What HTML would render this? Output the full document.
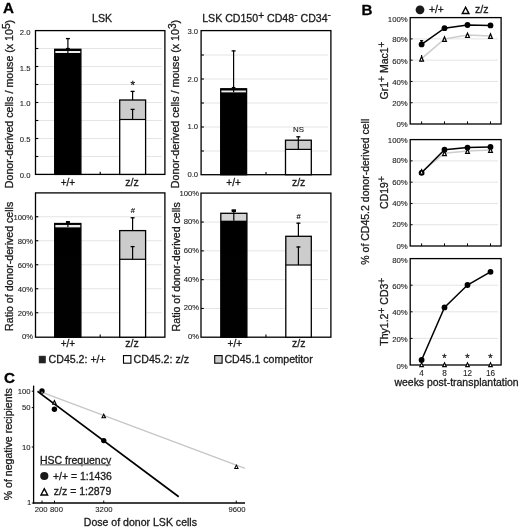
<!DOCTYPE html>
<html><head><meta charset="utf-8"><title>figure</title>
<style>html,body{margin:0;padding:0;background:#fff;}svg{display:block;font-family:"Liberation Sans", sans-serif;will-change:transform;opacity:0.999;}</style>
</head><body>
<svg width="520" height="529" viewBox="0 0 520 529">
<rect x="0" y="0" width="520" height="529" fill="#fff"/>
<text x="3.0" y="13.2" font-size="15.2" text-anchor="start" font-weight="bold" fill="#000" stroke="#000" stroke-width="0.3" >A</text>
<text x="102" y="22.1" font-size="10.6" text-anchor="middle" font-weight="normal" fill="#1a1a1a" stroke="#1a1a1a" stroke-width="0.3" >LSK</text>
<text x="266.6" y="21.9" font-size="10.6" text-anchor="middle" fill="#1a1a1a" stroke="#1a1a1a" stroke-width="0.3">LSK CD150<tspan dy="-3.0" font-size="10.2">+</tspan><tspan dy="3.0" font-size="1">&#8203;</tspan> CD48<tspan dy="-3.6" font-size="10.2">-</tspan><tspan dy="3.6" font-size="1">&#8203;</tspan> CD34<tspan dy="-3.6" font-size="10.2">-</tspan><tspan dy="3.6" font-size="1">&#8203;</tspan></text>
<line x1="36.5" y1="48.5" x2="161.9" y2="48.5" stroke="#e4e4e4" stroke-width="1" />
<line x1="35.5" y1="48.5" x2="38.3" y2="48.5" stroke="#000" stroke-width="1.1" />
<line x1="36.5" y1="66.5" x2="161.9" y2="66.5" stroke="#e4e4e4" stroke-width="1" />
<line x1="35.5" y1="66.5" x2="38.3" y2="66.5" stroke="#000" stroke-width="1.1" />
<line x1="36.5" y1="84.5" x2="161.9" y2="84.5" stroke="#e4e4e4" stroke-width="1" />
<line x1="35.5" y1="84.5" x2="38.3" y2="84.5" stroke="#000" stroke-width="1.1" />
<line x1="36.5" y1="102.5" x2="161.9" y2="102.5" stroke="#e4e4e4" stroke-width="1" />
<line x1="35.5" y1="102.5" x2="38.3" y2="102.5" stroke="#000" stroke-width="1.1" />
<line x1="36.5" y1="120.5" x2="161.9" y2="120.5" stroke="#e4e4e4" stroke-width="1" />
<line x1="35.5" y1="120.5" x2="38.3" y2="120.5" stroke="#000" stroke-width="1.1" />
<line x1="36.5" y1="138.5" x2="161.9" y2="138.5" stroke="#e4e4e4" stroke-width="1" />
<line x1="35.5" y1="138.5" x2="38.3" y2="138.5" stroke="#000" stroke-width="1.1" />
<line x1="36.5" y1="156.5" x2="161.9" y2="156.5" stroke="#e4e4e4" stroke-width="1" />
<line x1="35.5" y1="156.5" x2="38.3" y2="156.5" stroke="#000" stroke-width="1.1" />
<rect x="35.5" y="30.6" width="129.4" height="143.8" fill="none" stroke="#000" stroke-width="1.3"/>
<line x1="100.2" y1="174.4" x2="100.2" y2="171.8" stroke="#000" stroke-width="1.1" />
<text x="30.5" y="34.95" font-size="7.7" text-anchor="end" font-weight="normal" fill="#222" stroke="#222" stroke-width="0.1" >2.0</text>
<text x="30.5" y="70.55041724617524" font-size="7.7" text-anchor="end" font-weight="normal" fill="#222" stroke="#222" stroke-width="0.1" >1.5</text>
<text x="30.5" y="106.25" font-size="7.7" text-anchor="end" font-weight="normal" fill="#222" stroke="#222" stroke-width="0.1" >1.0</text>
<text x="30.5" y="141.94958275382476" font-size="7.7" text-anchor="end" font-weight="normal" fill="#222" stroke="#222" stroke-width="0.1" >0.5</text>
<text x="30.5" y="177.55" font-size="7.7" text-anchor="end" font-weight="normal" fill="#222" stroke="#222" stroke-width="0.1" >0.0</text>
<rect x="54.7" y="53" width="26.200000000000003" height="121.4" fill="#000" stroke="none"/>
<rect x="54.7" y="49.3" width="26.200000000000003" height="3.700000000000003" fill="#ececec" stroke="none"/>
<rect x="54.7" y="49.3" width="26.200000000000003" height="125.10000000000001" fill="none" stroke="#000" stroke-width="1.3"/>
<line x1="54.7" y1="50" x2="80.9" y2="50" stroke="#000" stroke-width="2.0" />
<line x1="67.9" y1="38.2" x2="67.9" y2="53" stroke="#000" stroke-width="1.2" />
<line x1="65.9" y1="38.6" x2="69.9" y2="38.6" stroke="#000" stroke-width="1.3" />
<line x1="66" y1="48.6" x2="69.8" y2="48.6" stroke="#000" stroke-width="1.4" />
<rect x="119.7" y="119.5" width="25.89999999999999" height="54.900000000000006" fill="#fff" stroke="none"/>
<rect x="119.7" y="100" width="25.89999999999999" height="19.5" fill="#cccccc" stroke="none"/>
<rect x="119.7" y="100" width="25.89999999999999" height="74.4" fill="none" stroke="#000" stroke-width="1.3"/>
<line x1="119.7" y1="119.5" x2="145.6" y2="119.5" stroke="#000" stroke-width="1.2" />
<line x1="132.6" y1="91" x2="132.6" y2="100" stroke="#000" stroke-width="1.2" />
<line x1="130.6" y1="91.4" x2="134.6" y2="91.4" stroke="#000" stroke-width="1.3" />
<line x1="132.6" y1="109" x2="132.6" y2="119.5" stroke="#000" stroke-width="1.2" />
<line x1="130.6" y1="109.4" x2="134.6" y2="109.4" stroke="#000" stroke-width="1.3" />
<text x="132.8" y="89.2" font-size="11.5" text-anchor="middle" font-weight="normal" fill="#1a1a1a" stroke="#1a1a1a" stroke-width="0.3" >*</text>
<text x="67.9" y="186.3" font-size="10" text-anchor="middle" font-weight="normal" fill="#1a1a1a" stroke="#1a1a1a" stroke-width="0.3" >+/+</text>
<text x="132.0" y="186.3" font-size="10.5" text-anchor="middle" font-weight="normal" fill="#1a1a1a" stroke="#1a1a1a" stroke-width="0.3" >z/z</text>
<text transform="translate(12.5,104) rotate(-90)" font-size="10.65" text-anchor="middle" fill="#1a1a1a" stroke="#1a1a1a" stroke-width="0.3">Donor-derived cells / mouse (x 10<tspan dy="-3.0" font-size="10.2">5</tspan><tspan dy="3.0" font-size="1">&#8203;</tspan>)</text>
<line x1="202.1" y1="55" x2="327.9" y2="55" stroke="#e4e4e4" stroke-width="1" />
<line x1="201.1" y1="55" x2="203.9" y2="55" stroke="#000" stroke-width="1.1" />
<line x1="202.1" y1="79" x2="327.9" y2="79" stroke="#e4e4e4" stroke-width="1" />
<line x1="201.1" y1="79" x2="203.9" y2="79" stroke="#000" stroke-width="1.1" />
<line x1="202.1" y1="103" x2="327.9" y2="103" stroke="#e4e4e4" stroke-width="1" />
<line x1="201.1" y1="103" x2="203.9" y2="103" stroke="#000" stroke-width="1.1" />
<line x1="202.1" y1="127" x2="327.9" y2="127" stroke="#e4e4e4" stroke-width="1" />
<line x1="201.1" y1="127" x2="203.9" y2="127" stroke="#000" stroke-width="1.1" />
<line x1="202.1" y1="151" x2="327.9" y2="151" stroke="#e4e4e4" stroke-width="1" />
<line x1="201.1" y1="151" x2="203.9" y2="151" stroke="#000" stroke-width="1.1" />
<rect x="201.1" y="30.6" width="129.79999999999998" height="144.1" fill="none" stroke="#000" stroke-width="1.3"/>
<line x1="266.0" y1="174.7" x2="266.0" y2="172.1" stroke="#000" stroke-width="1.1" />
<text x="198.1" y="33.55" font-size="7.7" text-anchor="end" font-weight="normal" fill="#222" stroke="#222" stroke-width="0.1" >3.0</text>
<text x="198.1" y="81.7148854961832" font-size="7.7" text-anchor="end" font-weight="normal" fill="#222" stroke="#222" stroke-width="0.1" >2.0</text>
<text x="198.1" y="129.4817140874393" font-size="7.7" text-anchor="end" font-weight="normal" fill="#222" stroke="#222" stroke-width="0.1" >1.0</text>
<text x="198.1" y="176.65145732130466" font-size="7.7" text-anchor="end" font-weight="normal" fill="#222" stroke="#222" stroke-width="0.1" >0.0</text>
<rect x="220.7" y="92.2" width="25.900000000000006" height="82.49999999999999" fill="#000" stroke="none"/>
<rect x="220.7" y="88.8" width="25.900000000000006" height="3.4000000000000057" fill="#ececec" stroke="none"/>
<rect x="220.7" y="88.8" width="25.900000000000006" height="85.89999999999999" fill="none" stroke="#000" stroke-width="1.3"/>
<line x1="220.7" y1="89.5" x2="246.6" y2="89.5" stroke="#000" stroke-width="2.0" />
<line x1="233.6" y1="50.5" x2="233.6" y2="92.2" stroke="#000" stroke-width="1.2" />
<line x1="231.6" y1="50.9" x2="235.6" y2="50.9" stroke="#000" stroke-width="1.3" />
<line x1="231.8" y1="87.6" x2="235.4" y2="87.6" stroke="#000" stroke-width="1.3" />
<rect x="285.5" y="149.4" width="25.80000000000001" height="25.299999999999983" fill="#fff" stroke="none"/>
<rect x="285.5" y="140.2" width="25.80000000000001" height="9.200000000000017" fill="#cccccc" stroke="none"/>
<rect x="285.5" y="140.2" width="25.80000000000001" height="34.5" fill="none" stroke="#000" stroke-width="1.3"/>
<line x1="285.5" y1="149.4" x2="311.3" y2="149.4" stroke="#000" stroke-width="1.2" />
<line x1="298.3" y1="136.4" x2="298.3" y2="149.4" stroke="#000" stroke-width="1.2" />
<line x1="296.3" y1="136.8" x2="300.3" y2="136.8" stroke="#000" stroke-width="1.3" />
<text x="298.5" y="131.6" font-size="7.9" text-anchor="middle" font-weight="normal" fill="#1a1a1a" stroke="#1a1a1a" stroke-width="0.1" >NS</text>
<text x="233.6" y="186.3" font-size="10" text-anchor="middle" font-weight="normal" fill="#1a1a1a" stroke="#1a1a1a" stroke-width="0.3" >+/+</text>
<text x="298.6" y="186.3" font-size="10.5" text-anchor="middle" font-weight="normal" fill="#1a1a1a" stroke="#1a1a1a" stroke-width="0.3" >z/z</text>
<text transform="translate(178.9,104) rotate(-90)" font-size="10.65" text-anchor="middle" fill="#1a1a1a" stroke="#1a1a1a" stroke-width="0.3">Donor-derived cells / mouse (x 10<tspan dy="-3.0" font-size="10.2">3</tspan><tspan dy="3.0" font-size="1">&#8203;</tspan>)</text>
<line x1="36.5" y1="216.75" x2="161.9" y2="216.75" stroke="#e4e4e4" stroke-width="1" />
<line x1="35.5" y1="216.75" x2="38.3" y2="216.75" stroke="#000" stroke-width="1.1" />
<line x1="36.5" y1="240.75" x2="161.9" y2="240.75" stroke="#e4e4e4" stroke-width="1" />
<line x1="35.5" y1="240.75" x2="38.3" y2="240.75" stroke="#000" stroke-width="1.1" />
<line x1="36.5" y1="264.75" x2="161.9" y2="264.75" stroke="#e4e4e4" stroke-width="1" />
<line x1="35.5" y1="264.75" x2="38.3" y2="264.75" stroke="#000" stroke-width="1.1" />
<line x1="36.5" y1="288.75" x2="161.9" y2="288.75" stroke="#e4e4e4" stroke-width="1" />
<line x1="35.5" y1="288.75" x2="38.3" y2="288.75" stroke="#000" stroke-width="1.1" />
<line x1="36.5" y1="312.75" x2="161.9" y2="312.75" stroke="#e4e4e4" stroke-width="1" />
<line x1="35.5" y1="312.75" x2="38.3" y2="312.75" stroke="#000" stroke-width="1.1" />
<rect x="35.5" y="192.9" width="129.4" height="144.29999999999998" fill="none" stroke="#000" stroke-width="1.3"/>
<line x1="100.2" y1="337.2" x2="100.2" y2="334.59999999999997" stroke="#000" stroke-width="1.1" />
<text x="33.2" y="220.0" font-size="7.7" text-anchor="end" font-weight="normal" fill="#222" stroke="#222" stroke-width="0.1" >100%</text>
<text x="33.2" y="244.0" font-size="7.7" text-anchor="end" font-weight="normal" fill="#222" stroke="#222" stroke-width="0.1" >80%</text>
<text x="33.2" y="268.0" font-size="7.7" text-anchor="end" font-weight="normal" fill="#222" stroke="#222" stroke-width="0.1" >60%</text>
<text x="33.2" y="292.0" font-size="7.7" text-anchor="end" font-weight="normal" fill="#222" stroke="#222" stroke-width="0.1" >40%</text>
<text x="33.2" y="316.0" font-size="7.7" text-anchor="end" font-weight="normal" fill="#222" stroke="#222" stroke-width="0.1" >20%</text>
<text x="33.2" y="339.45" font-size="7.7" text-anchor="end" font-weight="normal" fill="#222" stroke="#222" stroke-width="0.1" >0%</text>
<rect x="54.7" y="227.2" width="26.200000000000003" height="110.0" fill="#000" stroke="none"/>
<rect x="54.7" y="223.5" width="26.200000000000003" height="3.6999999999999886" fill="#ececec" stroke="none"/>
<rect x="54.7" y="223.5" width="26.200000000000003" height="113.69999999999999" fill="none" stroke="#000" stroke-width="1.3"/>
<line x1="54.7" y1="224" x2="80.9" y2="224" stroke="#000" stroke-width="1.9" />
<line x1="67.9" y1="221.4" x2="67.9" y2="227" stroke="#000" stroke-width="1.2" />
<line x1="65.9" y1="221.8" x2="69.9" y2="221.8" stroke="#000" stroke-width="1.3" />
<line x1="66" y1="222.6" x2="69.8" y2="222.6" stroke="#000" stroke-width="2.6" />
<rect x="119.7" y="259.3" width="25.89999999999999" height="77.89999999999998" fill="#fff" stroke="none"/>
<rect x="119.7" y="230.6" width="25.89999999999999" height="28.700000000000017" fill="#cccccc" stroke="none"/>
<rect x="119.7" y="230.6" width="25.89999999999999" height="106.6" fill="none" stroke="#000" stroke-width="1.3"/>
<line x1="119.7" y1="259.3" x2="145.6" y2="259.3" stroke="#000" stroke-width="1.2" />
<line x1="132.6" y1="217.4" x2="132.6" y2="230.6" stroke="#000" stroke-width="1.2" />
<line x1="130.6" y1="217.8" x2="134.6" y2="217.8" stroke="#000" stroke-width="1.3" />
<line x1="132.6" y1="246.2" x2="132.6" y2="259.3" stroke="#000" stroke-width="1.2" />
<line x1="130.6" y1="246.6" x2="134.6" y2="246.6" stroke="#000" stroke-width="1.3" />
<text x="132.9" y="212.9" font-size="7.6" text-anchor="middle" font-weight="normal" fill="#000" stroke="#000" stroke-width="0.1" >#</text>
<text x="67.9" y="347.3" font-size="10" text-anchor="middle" font-weight="normal" fill="#1a1a1a" stroke="#1a1a1a" stroke-width="0.3" >+/+</text>
<text x="132.0" y="347.4" font-size="10.5" text-anchor="middle" font-weight="normal" fill="#1a1a1a" stroke="#1a1a1a" stroke-width="0.3" >z/z</text>
<text transform="translate(12.5,266.3) rotate(-90)" font-size="10.62" text-anchor="middle" fill="#1a1a1a" stroke="#1a1a1a" stroke-width="0.3">Ratio of donor-derived cells</text>
<line x1="202.0" y1="222.05" x2="327.9" y2="222.05" stroke="#e4e4e4" stroke-width="1" />
<line x1="201.0" y1="222.05" x2="203.8" y2="222.05" stroke="#000" stroke-width="1.1" />
<line x1="202.0" y1="250.85" x2="327.9" y2="250.85" stroke="#e4e4e4" stroke-width="1" />
<line x1="201.0" y1="250.85" x2="203.8" y2="250.85" stroke="#000" stroke-width="1.1" />
<line x1="202.0" y1="279.65" x2="327.9" y2="279.65" stroke="#e4e4e4" stroke-width="1" />
<line x1="201.0" y1="279.65" x2="203.8" y2="279.65" stroke="#000" stroke-width="1.1" />
<line x1="202.0" y1="308.45" x2="327.9" y2="308.45" stroke="#e4e4e4" stroke-width="1" />
<line x1="201.0" y1="308.45" x2="203.8" y2="308.45" stroke="#000" stroke-width="1.1" />
<rect x="201.0" y="193.1" width="129.89999999999998" height="144.1" fill="none" stroke="#000" stroke-width="1.3"/>
<line x1="265.95" y1="337.2" x2="265.95" y2="334.59999999999997" stroke="#000" stroke-width="1.1" />
<text x="199.2" y="196.34833448993754" font-size="7.7" text-anchor="end" font-weight="normal" fill="#222" stroke="#222" stroke-width="0.1" >100%</text>
<text x="199.2" y="224.05981956974324" font-size="7.7" text-anchor="end" font-weight="normal" fill="#222" stroke="#222" stroke-width="0.1" >80%</text>
<text x="199.2" y="252.81984732824426" font-size="7.7" text-anchor="end" font-weight="normal" fill="#222" stroke="#222" stroke-width="0.1" >60%</text>
<text x="199.2" y="281.5798750867453" font-size="7.7" text-anchor="end" font-weight="normal" fill="#222" stroke="#222" stroke-width="0.1" >40%</text>
<text x="199.2" y="310.33990284524634" font-size="7.7" text-anchor="end" font-weight="normal" fill="#222" stroke="#222" stroke-width="0.1" >20%</text>
<text x="199.2" y="339.0999306037474" font-size="7.7" text-anchor="end" font-weight="normal" fill="#222" stroke="#222" stroke-width="0.1" >0%</text>
<rect x="220.8" y="220.4" width="26.099999999999994" height="116.79999999999998" fill="#000" stroke="none"/>
<rect x="220.8" y="213.3" width="26.099999999999994" height="7.099999999999994" fill="#d4d4d4" stroke="none"/>
<rect x="220.8" y="213.3" width="26.099999999999994" height="123.89999999999998" fill="none" stroke="#000" stroke-width="1.3"/>
<line x1="233.8" y1="210" x2="233.8" y2="220.8" stroke="#000" stroke-width="1.2" />
<line x1="231.70000000000002" y1="210.4" x2="235.9" y2="210.4" stroke="#000" stroke-width="1.3" />
<line x1="231.7" y1="210.7" x2="236" y2="210.7" stroke="#000" stroke-width="2.6" />
<rect x="285.8" y="265" width="25.5" height="72.19999999999999" fill="#fff" stroke="none"/>
<rect x="285.8" y="236.3" width="25.5" height="28.69999999999999" fill="#cccccc" stroke="none"/>
<rect x="285.8" y="236.3" width="25.5" height="100.89999999999998" fill="none" stroke="#000" stroke-width="1.3"/>
<line x1="285.8" y1="265" x2="311.3" y2="265" stroke="#000" stroke-width="1.2" />
<line x1="298.4" y1="222.8" x2="298.4" y2="236.3" stroke="#000" stroke-width="1.2" />
<line x1="296.4" y1="223.20000000000002" x2="300.4" y2="223.20000000000002" stroke="#000" stroke-width="1.3" />
<line x1="298.4" y1="246.6" x2="298.4" y2="265" stroke="#000" stroke-width="1.2" />
<line x1="296.4" y1="247.0" x2="300.4" y2="247.0" stroke="#000" stroke-width="1.3" />
<text x="298.6" y="218.7" font-size="7.6" text-anchor="middle" font-weight="normal" fill="#000" stroke="#000" stroke-width="0.1" >#</text>
<text x="234.8" y="347.3" font-size="10" text-anchor="middle" font-weight="normal" fill="#1a1a1a" stroke="#1a1a1a" stroke-width="0.3" >+/+</text>
<text x="298.7" y="347.4" font-size="10.5" text-anchor="middle" font-weight="normal" fill="#1a1a1a" stroke="#1a1a1a" stroke-width="0.3" >z/z</text>
<text transform="translate(180.3,266.8) rotate(-90)" font-size="10.62" text-anchor="middle" fill="#1a1a1a" stroke="#1a1a1a" stroke-width="0.3">Ratio of donor-derived cells</text>
<rect x="39.1" y="356.1" width="6.4" height="6.9" fill="#222" stroke="#222" stroke-width="0.6"/>
<text x="48.6" y="363" font-size="10.6" text-anchor="start" font-weight="normal" fill="#1a1a1a" stroke="#1a1a1a" stroke-width="0.3" >CD45.2: +/+</text>
<rect x="123.5" y="355.6" width="7.4" height="7.6" fill="#fff" stroke="#000" stroke-width="1.1"/>
<text x="133.6" y="363" font-size="10.6" text-anchor="start" font-weight="normal" fill="#1a1a1a" stroke="#1a1a1a" stroke-width="0.3" >CD45.2: z/z</text>
<rect x="214.7" y="355.6" width="7.4" height="7.6" fill="#cccccc" stroke="#000" stroke-width="1.1"/>
<text x="224.4" y="363" font-size="10.6" text-anchor="start" font-weight="normal" fill="#1a1a1a" stroke="#1a1a1a" stroke-width="0.3" >CD45.1 competitor</text>
<text x="361.4" y="15.3" font-size="15.2" text-anchor="start" font-weight="bold" fill="#000" stroke="#000" stroke-width="0.3" >B</text>
<circle cx="420" cy="9.8" r="4.4" fill="#1a1a1a"/>
<text x="429" y="13.2" font-size="10.3" text-anchor="start" font-weight="normal" fill="#1a1a1a" stroke="#1a1a1a" stroke-width="0.3" >+/+</text>
<polygon points="465.60,5.80 461.10,14.20 470.10,14.20" fill="#000"/>
<polygon points="465.60,8.87 463.52,12.75 467.68,12.75" fill="#fff"/>
<text x="475" y="13" font-size="10.6" text-anchor="start" font-weight="normal" fill="#1a1a1a" stroke="#1a1a1a" stroke-width="0.3" >z/z</text>
<line x1="411.2" y1="38.88" x2="498.1" y2="38.88" stroke="#e4e4e4" stroke-width="1" />
<line x1="410.2" y1="38.88" x2="412.59999999999997" y2="38.88" stroke="#000" stroke-width="1.0" />
<line x1="411.2" y1="60.160000000000004" x2="498.1" y2="60.160000000000004" stroke="#e4e4e4" stroke-width="1" />
<line x1="410.2" y1="60.160000000000004" x2="412.59999999999997" y2="60.160000000000004" stroke="#000" stroke-width="1.0" />
<line x1="411.2" y1="81.44" x2="498.1" y2="81.44" stroke="#e4e4e4" stroke-width="1" />
<line x1="410.2" y1="81.44" x2="412.59999999999997" y2="81.44" stroke="#000" stroke-width="1.0" />
<line x1="411.2" y1="102.72" x2="498.1" y2="102.72" stroke="#e4e4e4" stroke-width="1" />
<line x1="410.2" y1="102.72" x2="412.59999999999997" y2="102.72" stroke="#000" stroke-width="1.0" />
<rect x="410.2" y="17.6" width="90.90000000000003" height="106.4" fill="none" stroke="#000" stroke-width="1.3"/>
<line x1="421.6" y1="124" x2="421.6" y2="121.4" stroke="#000" stroke-width="1.0" />
<line x1="444.5" y1="124" x2="444.5" y2="121.4" stroke="#000" stroke-width="1.0" />
<line x1="467.5" y1="124" x2="467.5" y2="121.4" stroke="#000" stroke-width="1.0" />
<line x1="490.5" y1="124" x2="490.5" y2="121.4" stroke="#000" stroke-width="1.0" />
<text x="407.8" y="21.7" font-size="7.8" text-anchor="end" font-weight="normal" fill="#222" stroke="#222" stroke-width="0.1" >100%</text>
<text x="407.8" y="42.28" font-size="7.8" text-anchor="end" font-weight="normal" fill="#222" stroke="#222" stroke-width="0.1" >80%</text>
<text x="407.8" y="63.56" font-size="7.8" text-anchor="end" font-weight="normal" fill="#222" stroke="#222" stroke-width="0.1" >60%</text>
<text x="407.8" y="84.84" font-size="7.8" text-anchor="end" font-weight="normal" fill="#222" stroke="#222" stroke-width="0.1" >40%</text>
<text x="407.8" y="106.12" font-size="7.8" text-anchor="end" font-weight="normal" fill="#222" stroke="#222" stroke-width="0.1" >20%</text>
<text x="407.8" y="127.4" font-size="7.8" text-anchor="end" font-weight="normal" fill="#222" stroke="#222" stroke-width="0.1" >0%</text>
<polyline fill="none" stroke="#cdcdcd" stroke-width="1.55" points="421.6,58.7 444.5,38.9 467.5,35.1 490.5,35.9"/>
<polyline fill="none" stroke="#000" stroke-width="1.5" points="421.6,44.4 444.5,28.2 467.5,25 490.5,25.4"/>
<line x1="421.6" y1="40.4" x2="421.6" y2="47" stroke="#000" stroke-width="1.1" />
<line x1="420" y1="40.7" x2="423.2" y2="40.7" stroke="#000" stroke-width="1.2" />
<line x1="421.6" y1="55" x2="421.6" y2="61.5" stroke="#000" stroke-width="1.1" />
<polygon points="421.60,55.10 418.80,61.70 424.40,61.70" fill="#000"/>
<polygon points="421.60,58.22 420.64,60.48 422.56,60.48" fill="#fff"/>
<polygon points="444.50,35.30 441.70,41.90 447.30,41.90" fill="#000"/>
<polygon points="444.50,38.42 443.54,40.68 445.46,40.68" fill="#fff"/>
<polygon points="467.50,31.50 464.70,38.10 470.30,38.10" fill="#000"/>
<polygon points="467.50,34.62 466.54,36.88 468.46,36.88" fill="#fff"/>
<polygon points="490.50,32.30 487.70,38.90 493.30,38.90" fill="#000"/>
<polygon points="490.50,35.42 489.54,37.68 491.46,37.68" fill="#fff"/>
<circle cx="421.6" cy="44.4" r="2.9" fill="#000"/>
<circle cx="444.5" cy="28.2" r="2.9" fill="#000"/>
<circle cx="467.5" cy="25" r="2.9" fill="#000"/>
<circle cx="490.5" cy="25.4" r="2.9" fill="#000"/>
<text transform="translate(387.7,70.5) rotate(-90)" font-size="10.5" text-anchor="middle" fill="#1a1a1a" stroke="#1a1a1a" stroke-width="0.3">Gr1<tspan dy="-3.0" font-size="10.2">+</tspan><tspan dy="3.0" font-size="1">&#8203;</tspan> Mac1<tspan dy="-3.0" font-size="10.2">+</tspan><tspan dy="3.0" font-size="1">&#8203;</tspan></text>
<line x1="411.2" y1="160.88" x2="498.1" y2="160.88" stroke="#e4e4e4" stroke-width="1" />
<line x1="410.2" y1="160.88" x2="412.59999999999997" y2="160.88" stroke="#000" stroke-width="1.0" />
<line x1="411.2" y1="182.16" x2="498.1" y2="182.16" stroke="#e4e4e4" stroke-width="1" />
<line x1="410.2" y1="182.16" x2="412.59999999999997" y2="182.16" stroke="#000" stroke-width="1.0" />
<line x1="411.2" y1="203.44" x2="498.1" y2="203.44" stroke="#e4e4e4" stroke-width="1" />
<line x1="410.2" y1="203.44" x2="412.59999999999997" y2="203.44" stroke="#000" stroke-width="1.0" />
<line x1="411.2" y1="224.72" x2="498.1" y2="224.72" stroke="#e4e4e4" stroke-width="1" />
<line x1="410.2" y1="224.72" x2="412.59999999999997" y2="224.72" stroke="#000" stroke-width="1.0" />
<rect x="410.2" y="139.6" width="90.90000000000003" height="106.4" fill="none" stroke="#000" stroke-width="1.3"/>
<line x1="421.6" y1="246" x2="421.6" y2="243.4" stroke="#000" stroke-width="1.0" />
<line x1="444.5" y1="246" x2="444.5" y2="243.4" stroke="#000" stroke-width="1.0" />
<line x1="467.5" y1="246" x2="467.5" y2="243.4" stroke="#000" stroke-width="1.0" />
<line x1="490.5" y1="246" x2="490.5" y2="243.4" stroke="#000" stroke-width="1.0" />
<text x="407.8" y="142.9" font-size="7.8" text-anchor="end" font-weight="normal" fill="#222" stroke="#222" stroke-width="0.1" >100%</text>
<text x="407.8" y="163.48" font-size="7.8" text-anchor="end" font-weight="normal" fill="#222" stroke="#222" stroke-width="0.1" >80%</text>
<text x="407.8" y="184.76" font-size="7.8" text-anchor="end" font-weight="normal" fill="#222" stroke="#222" stroke-width="0.1" >60%</text>
<text x="407.8" y="206.04" font-size="7.8" text-anchor="end" font-weight="normal" fill="#222" stroke="#222" stroke-width="0.1" >40%</text>
<text x="407.8" y="227.32" font-size="7.8" text-anchor="end" font-weight="normal" fill="#222" stroke="#222" stroke-width="0.1" >20%</text>
<text x="407.8" y="248.6" font-size="7.8" text-anchor="end" font-weight="normal" fill="#222" stroke="#222" stroke-width="0.1" >0%</text>
<polyline fill="none" stroke="#cdcdcd" stroke-width="1.55" points="421.6,171.8 444.5,153.2 467.5,151 490.5,150"/>
<polyline fill="none" stroke="#000" stroke-width="1.5" points="421.6,172.8 444.5,149.7 467.5,147.6 490.5,146.9"/>
<circle cx="421.6" cy="172.8" r="2.9" fill="#000"/>
<circle cx="444.5" cy="149.7" r="2.9" fill="#000"/>
<circle cx="467.5" cy="147.6" r="2.9" fill="#000"/>
<circle cx="490.5" cy="146.9" r="2.9" fill="#000"/>
<polygon points="421.60,168.20 418.80,174.80 424.40,174.80" fill="#000"/>
<polygon points="421.60,171.32 420.64,173.58 422.56,173.58" fill="#fff"/>
<polygon points="444.50,149.60 441.70,156.20 447.30,156.20" fill="#000"/>
<polygon points="444.50,152.72 443.54,154.98 445.46,154.98" fill="#fff"/>
<polygon points="467.50,147.40 464.70,154.00 470.30,154.00" fill="#000"/>
<polygon points="467.50,150.52 466.54,152.78 468.46,152.78" fill="#fff"/>
<polygon points="490.50,146.40 487.70,153.00 493.30,153.00" fill="#000"/>
<polygon points="490.50,149.52 489.54,151.78 491.46,151.78" fill="#fff"/>
<text transform="translate(387.7,192.5) rotate(-90)" font-size="10.5" text-anchor="middle" fill="#1a1a1a" stroke="#1a1a1a" stroke-width="0.3">CD19<tspan dy="-3.0" font-size="10.2">+</tspan><tspan dy="3.0" font-size="1">&#8203;</tspan></text>
<text transform="translate(369.3,191.7) rotate(-90)" font-size="10.5" text-anchor="middle" fill="#1a1a1a" stroke="#1a1a1a" stroke-width="0.3">% of CD45.2 donor-derived cell</text>
<line x1="411.2" y1="285.20000000000005" x2="498.1" y2="285.20000000000005" stroke="#e4e4e4" stroke-width="1" />
<line x1="410.2" y1="285.20000000000005" x2="412.59999999999997" y2="285.20000000000005" stroke="#000" stroke-width="1.0" />
<line x1="411.2" y1="311.8" x2="498.1" y2="311.8" stroke="#e4e4e4" stroke-width="1" />
<line x1="410.2" y1="311.8" x2="412.59999999999997" y2="311.8" stroke="#000" stroke-width="1.0" />
<line x1="411.2" y1="338.40000000000003" x2="498.1" y2="338.40000000000003" stroke="#e4e4e4" stroke-width="1" />
<line x1="410.2" y1="338.40000000000003" x2="412.59999999999997" y2="338.40000000000003" stroke="#000" stroke-width="1.0" />
<rect x="410.2" y="258.6" width="90.90000000000003" height="106.39999999999998" fill="none" stroke="#000" stroke-width="1.3"/>
<line x1="421.6" y1="365" x2="421.6" y2="362.4" stroke="#000" stroke-width="1.0" />
<line x1="444.5" y1="365" x2="444.5" y2="362.4" stroke="#000" stroke-width="1.0" />
<line x1="467.5" y1="365" x2="467.5" y2="362.4" stroke="#000" stroke-width="1.0" />
<line x1="490.5" y1="365" x2="490.5" y2="362.4" stroke="#000" stroke-width="1.0" />
<text x="407.8" y="262.90000000000003" font-size="7.8" text-anchor="end" font-weight="normal" fill="#222" stroke="#222" stroke-width="0.1" >80%</text>
<text x="407.8" y="288.80000000000007" font-size="7.8" text-anchor="end" font-weight="normal" fill="#222" stroke="#222" stroke-width="0.1" >60%</text>
<text x="407.8" y="315.40000000000003" font-size="7.8" text-anchor="end" font-weight="normal" fill="#222" stroke="#222" stroke-width="0.1" >40%</text>
<text x="407.8" y="342.00000000000006" font-size="7.8" text-anchor="end" font-weight="normal" fill="#222" stroke="#222" stroke-width="0.1" >20%</text>
<text x="407.8" y="368.6" font-size="7.8" text-anchor="end" font-weight="normal" fill="#222" stroke="#222" stroke-width="0.1" >0%</text>
<polyline fill="none" stroke="#000" stroke-width="1.5" points="421.6,360 444.5,307.4 467.5,285 490.5,271.8"/>
<circle cx="421.6" cy="360" r="2.9" fill="#000"/>
<circle cx="444.5" cy="307.4" r="2.9" fill="#000"/>
<circle cx="467.5" cy="285" r="2.9" fill="#000"/>
<circle cx="490.5" cy="271.8" r="2.9" fill="#000"/>
<polygon points="421.60,361.40 418.90,367.20 424.30,367.20" fill="#000"/>
<polygon points="421.60,364.12 420.70,366.05 422.50,366.05" fill="#fff"/>
<polygon points="444.50,361.40 441.80,367.20 447.20,367.20" fill="#000"/>
<polygon points="444.50,364.12 443.60,366.05 445.40,366.05" fill="#fff"/>
<polygon points="467.50,361.40 464.80,367.20 470.20,367.20" fill="#000"/>
<polygon points="467.50,364.12 466.60,366.05 468.40,366.05" fill="#fff"/>
<polygon points="490.50,361.40 487.80,367.20 493.20,367.20" fill="#000"/>
<polygon points="490.50,364.12 489.60,366.05 491.40,366.05" fill="#fff"/>
<text x="444.5" y="362.4" font-size="11" text-anchor="middle" font-weight="normal" fill="#1a1a1a" stroke="#1a1a1a" stroke-width="0.3" >*</text>
<text x="467.5" y="362.4" font-size="11" text-anchor="middle" font-weight="normal" fill="#1a1a1a" stroke="#1a1a1a" stroke-width="0.3" >*</text>
<text x="490.5" y="362.4" font-size="11" text-anchor="middle" font-weight="normal" fill="#1a1a1a" stroke="#1a1a1a" stroke-width="0.3" >*</text>
<text x="421.6" y="376.1" font-size="8.2" text-anchor="middle" font-weight="normal" fill="#222" stroke="#222" stroke-width="0.1" >4</text>
<text x="444.5" y="376.1" font-size="8.2" text-anchor="middle" font-weight="normal" fill="#222" stroke="#222" stroke-width="0.1" >8</text>
<text x="467.5" y="376.1" font-size="8.2" text-anchor="middle" font-weight="normal" fill="#222" stroke="#222" stroke-width="0.1" >12</text>
<text x="490.5" y="376.1" font-size="8.2" text-anchor="middle" font-weight="normal" fill="#222" stroke="#222" stroke-width="0.1" >16</text>
<text x="456.6" y="386" font-size="10.45" text-anchor="middle" font-weight="normal" fill="#1a1a1a" stroke="#1a1a1a" stroke-width="0.3" >weeks post-transplantation</text>
<text transform="translate(387.7,311.7) rotate(-90)" font-size="10.5" text-anchor="middle" fill="#1a1a1a" stroke="#1a1a1a" stroke-width="0.3">Thy1.2<tspan dy="-3.0" font-size="10.2">+</tspan><tspan dy="3.0" font-size="1">&#8203;</tspan> CD3<tspan dy="-3.0" font-size="10.2">+</tspan><tspan dy="3.0" font-size="1">&#8203;</tspan></text>
<text x="4.0" y="382.8" font-size="15.2" text-anchor="start" font-weight="bold" fill="#000" stroke="#000" stroke-width="0.3" >C</text>
<line x1="33.6" y1="385.6" x2="33.6" y2="503.6" stroke="#000" stroke-width="1.3" />
<line x1="33" y1="503" x2="245" y2="503" stroke="#000" stroke-width="1.3" />
<line x1="31.8" y1="391.2" x2="33.6" y2="391.2" stroke="#000" stroke-width="1.0" />
<line x1="31.8" y1="407.6" x2="33.6" y2="407.6" stroke="#000" stroke-width="1.0" />
<line x1="31.8" y1="447" x2="33.6" y2="447" stroke="#000" stroke-width="1.0" />
<line x1="31.8" y1="503" x2="33.6" y2="503" stroke="#000" stroke-width="1.0" />
<line x1="42" y1="503" x2="42" y2="500.6" stroke="#000" stroke-width="1.0" />
<line x1="54.5" y1="503" x2="54.5" y2="500.6" stroke="#000" stroke-width="1.0" />
<line x1="103.75" y1="503" x2="103.75" y2="500.6" stroke="#000" stroke-width="1.0" />
<line x1="236.25" y1="503" x2="236.25" y2="500.6" stroke="#000" stroke-width="1.0" />
<text x="30.6" y="394.09999999999997" font-size="7.7" text-anchor="end" font-weight="normal" fill="#222" stroke="#222" stroke-width="0.1" >100</text>
<text x="30.6" y="409.79999999999995" font-size="7.7" text-anchor="end" font-weight="normal" fill="#222" stroke="#222" stroke-width="0.1" >50</text>
<text x="30.6" y="449.9" font-size="7.7" text-anchor="end" font-weight="normal" fill="#222" stroke="#222" stroke-width="0.1" >10</text>
<text x="31.400000000000002" y="505.09999999999997" font-size="7.7" text-anchor="end" font-weight="normal" fill="#222" stroke="#222" stroke-width="0.1" >1</text>
<text x="41.1" y="512.3" font-size="7.7" text-anchor="middle" font-weight="normal" fill="#222" stroke="#222" stroke-width="0.1" >200</text>
<text x="56.5" y="512.3" font-size="7.7" text-anchor="middle" font-weight="normal" fill="#222" stroke="#222" stroke-width="0.1" >800</text>
<text x="103.9" y="512.3" font-size="7.7" text-anchor="middle" font-weight="normal" fill="#222" stroke="#222" stroke-width="0.1" >3200</text>
<text x="237" y="512.3" font-size="7.7" text-anchor="middle" font-weight="normal" fill="#222" stroke="#222" stroke-width="0.1" >9600</text>
<text x="140.4" y="525.5" font-size="10.55" text-anchor="middle" font-weight="normal" fill="#1a1a1a" stroke="#1a1a1a" stroke-width="0.3" >Dose of donor LSK cells</text>
<text transform="translate(12.1,444.2) rotate(-90)" font-size="10.55" text-anchor="middle" fill="#1a1a1a" stroke="#1a1a1a" stroke-width="0.3">% of negative recipients</text>
<line x1="37.5" y1="390.6" x2="245" y2="468.3" stroke="#c6c6c6" stroke-width="1.35" />
<line x1="37.5" y1="391.4" x2="178.75" y2="496.75" stroke="#000" stroke-width="1.7" />
<circle cx="42" cy="391" r="2.7" fill="#000"/>
<polygon points="41.2,392.7 42.8,392.7 42,391.2" fill="#fff"/>
<circle cx="54.4" cy="409.2" r="2.7" fill="#000"/>
<circle cx="103.75" cy="440.6" r="2.7" fill="#000"/>
<polygon points="54.40,399.30 51.80,404.70 57.00,404.70" fill="#000"/>
<polygon points="54.40,401.95 53.63,403.55 55.17,403.55" fill="#fff"/>
<polygon points="103.75,412.90 101.15,418.30 106.35,418.30" fill="#000"/>
<polygon points="103.75,415.55 102.98,417.15 104.52,417.15" fill="#fff"/>
<polygon points="236.40,464.00 233.90,469.00 238.90,469.00" fill="#000"/>
<polygon points="236.40,466.24 235.52,468.00 237.28,468.00" fill="#fff"/>
<text x="40" y="463.9" font-size="10.5" text-anchor="start" font-weight="normal" fill="#1a1a1a" stroke="#1a1a1a" stroke-width="0.3" >HSC frequency</text>
<line x1="40" y1="464.7" x2="110.8" y2="464.7" stroke="#8a8a8a" stroke-width="1.4" />
<circle cx="44.3" cy="476" r="4.1" fill="#1a1a1a"/>
<text x="53" y="479.6" font-size="10.45" text-anchor="start" font-weight="normal" fill="#1a1a1a" stroke="#1a1a1a" stroke-width="0.3" >+/+ = 1:1436</text>
<polygon points="44.30,487.30 39.80,495.70 48.80,495.70" fill="#000"/>
<polygon points="44.30,490.16 42.05,494.35 46.55,494.35" fill="#fff"/>
<text x="53.8" y="495.2" font-size="10.5" text-anchor="start" font-weight="normal" fill="#1a1a1a" stroke="#1a1a1a" stroke-width="0.3" >z/z = 1:2879</text>
</svg></body></html>
